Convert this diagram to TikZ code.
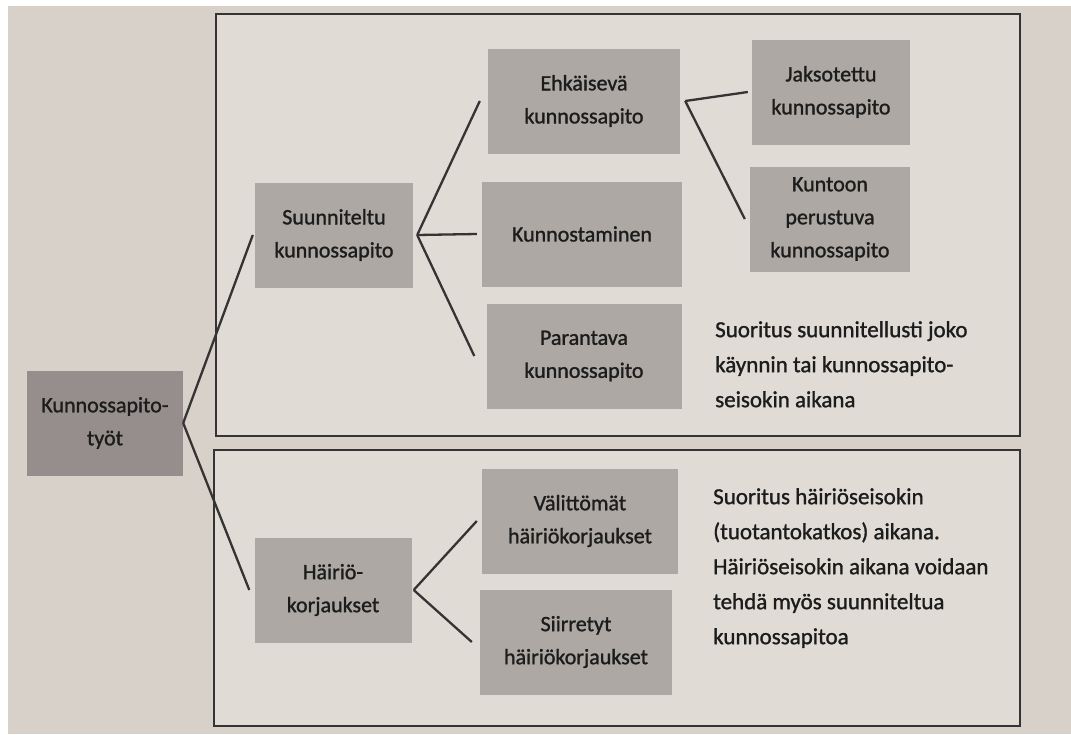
\documentclass[tikz,border=0pt]{standalone}
\usepackage{fontspec}
\setmainfont{Carlito}[RawFeature={embolden=1.2}]

\definecolor{page}{HTML}{D8D1C9}
\definecolor{frameface}{HTML}{E0DBD5}
\definecolor{boxgray}{HTML}{ADA8A3}
\definecolor{boxdark}{HTML}{968E8C}
\definecolor{ink}{HTML}{1C1C1C}
\definecolor{wire}{HTML}{353333}

\begin{document}
\begin{tikzpicture}[x=1pt,y=-1pt,
  box/.style={fill=boxgray, minimum height=105pt, inner sep=0pt, align=center, text=ink, font=\fontsize{22}{33}\selectfont},
  darkbox/.style={box, fill=boxdark},
  note/.style={anchor=north west, inner sep=0pt, align=left, text=ink, font=\fontsize{23}{35}\selectfont},
  conn/.style={draw=wire, line width=2.3pt},
  frame/.style={draw=wire, line width=1.3pt, fill=frameface}]

\useasboundingbox (0,0) rectangle (1071,734);
\fill[white] (0,0) rectangle (1071,734);
\fill[page] (8,6) rectangle (1071,734);

% the two frames
\draw[frame] (216,14) rectangle (1020,436);
\draw[frame] (214,450) rectangle (1020,726);

% boxes
\node[darkbox, minimum width=156pt] (kt) at (105,423) {Kunnossapito-\\työt};

\node[box, minimum width=158pt] (su) at (334,235) {Suunniteltu\\kunnossapito};
\node[box, minimum width=192pt] (eh) at (584,101) {Ehkäisevä\\kunnossapito};
\node[box, minimum width=200pt] (ko) at (582,234) {Kunnostaminen};
\node[box, minimum width=195pt] (pa) at (584,356) {Parantava\\kunnossapito};
\node[box, minimum width=158pt] (ja) at (831,92) {Jaksotettu\\kunnossapito};
\node[box, minimum width=160pt] (kp) at (830,219) {Kuntoon\\perustuva\\kunnossapito};

\node[box, minimum width=157pt] (ha) at (333,590) {Häiriö-\\korjaukset};
\node[box, minimum width=196pt] (va) at (580,521) {Välittömät\\häiriökorjaukset};
\node[box, minimum width=192pt] (si) at (576,642) {Siirretyt\\häiriökorjaukset};

% texts
\node[note] (desc1) at (715,321) {Suoritus suunnitellusti joko\\käynnin tai kunnossapito-\\seisokin aikana};
\node[note] (desc2) at (713,488) {Suoritus häiriöseisokin\\(tuotantokatkos) aikana.\\Häiriöseisokin aikana voidaan\\tehdä myös suunniteltua\\kunnossapitoa};

% connectors
\draw[conn] (kt.east) -- ([xshift=-2pt]su.west);
\draw[conn] (kt.east) -- ([xshift=-5pt]ha.west);

\draw[conn] ([xshift=4pt]su.east) -- ([xshift=-8pt]eh.west);
\draw[conn] ([xshift=4pt]su.east) -- ([xshift=-5pt]ko.west);
\draw[conn] ([xshift=4pt]su.east) -- ([xshift=-12pt]pa.west);

\draw[conn] ([xshift=5pt]eh.east) -- ([xshift=-4pt]ja.west);
\draw[conn] ([xshift=5pt]eh.east) -- ([xshift=-5pt]kp.west);

\draw[conn] ([xshift=2pt]ha.east) -- ([xshift=-5pt]va.west);
\draw[conn] ([xshift=2pt]ha.east) -- ([xshift=-8pt]si.west);

\end{tikzpicture}
\end{document}
